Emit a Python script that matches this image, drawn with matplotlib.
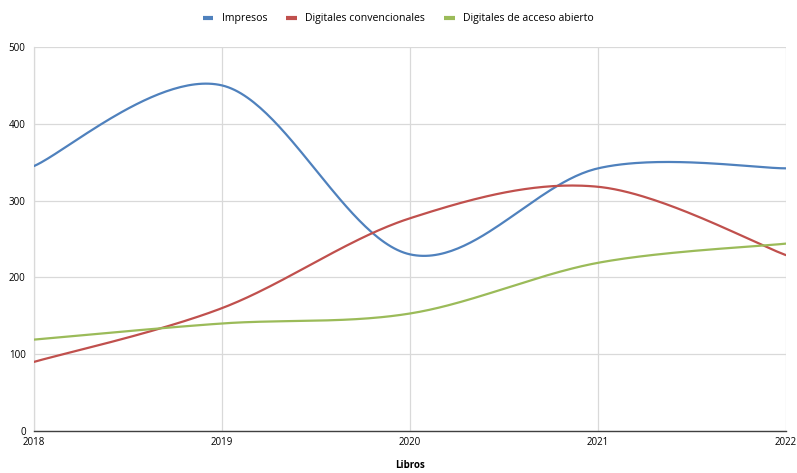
import numpy as np
import matplotlib
matplotlib.use("Agg")
import matplotlib.pyplot as plt

plt.rcParams['font.family'] = ['Open Sans', 'DejaVu Sans']

years = [2018, 2019, 2020, 2021, 2022]
impresos = [345, 450, 230, 342, 342]
convencionales = [90, 160, 277, 318, 229]
acceso_abierto = [119, 140, 153, 219, 244]

series_names = ["Impresos", "Digitales convencionales", "Digitales de acceso abierto"]
colors = ["#4F81BD", "#C0504D", "#9BBB59"]


def smooth(xs, ys, n=60):
    """Excel-like smoothed line (Catmull-Rom Bezier) for drawing only."""
    P = np.column_stack([np.asarray(xs, float), np.asarray(ys, float)])
    m = len(P)
    out = []
    t = np.linspace(0, 1, n)[:, None]
    for i in range(m - 1):
        p0 = P[max(i - 1, 0)]
        p1 = P[i]
        p2 = P[i + 1]
        p3 = P[min(i + 2, m - 1)]
        c1 = p1 + (p2 - p0) / 6.0
        c2 = p2 - (p3 - p1) / 6.0
        seg = ((1 - t) ** 3) * p1 + 3 * ((1 - t) ** 2) * t * c1 + 3 * (1 - t) * t ** 2 * c2 + t ** 3 * p2
        out.append(seg if i == 0 else seg[1:])
    out = np.vstack(out)
    return out[:, 0], out[:, 1]


fig = plt.figure(figsize=(7.97, 4.73), dpi=100)
ax = fig.add_axes([34 / 797, 42 / 473, 752 / 797, 384 / 473])

for name, vals, c in zip(series_names, [impresos, convencionales, acceso_abierto], colors):
    sx, sy = smooth(years, vals)
    ax.plot(sx, sy, color=c, lw=1.6, label=name, solid_capstyle='round', zorder=3)

ax.set_xlim(2018, 2022)
ax.set_ylim(0, 500)
ax.set_xticks(years)
ax.set_xticklabels([str(y) for y in years])
ax.set_yticks([0, 100, 200, 300, 400, 500])
ax.grid(True, color="#d9d9d9", lw=0.9, zorder=0)
ax.set_axisbelow(True)
for s in ["top", "right"]:
    ax.spines[s].set_visible(False)
ax.spines["left"].set_color("#d9d9d9")
ax.spines["left"].set_linewidth(0.9)
ax.spines["bottom"].set_color("#404040")
ax.spines["bottom"].set_linewidth(1.0)
ax.tick_params(axis='both', length=0, labelsize=7, colors="#000000", pad=4)
ax.tick_params(axis='y', pad=6)

ax.set_xlabel("Libros", fontsize=7, fontweight='bold', labelpad=9)

leg = fig.legend(loc='center', bbox_to_anchor=(0.5, 1 - 19 / 473), ncol=3, frameon=False,
                 fontsize=7.6, handlelength=1.0, handletextpad=0.8, columnspacing=1.8)
for h in leg.get_lines():
    h.set_linewidth(3)
    h.set_solid_capstyle('butt')

fig.savefig("out.png", dpi=100)
